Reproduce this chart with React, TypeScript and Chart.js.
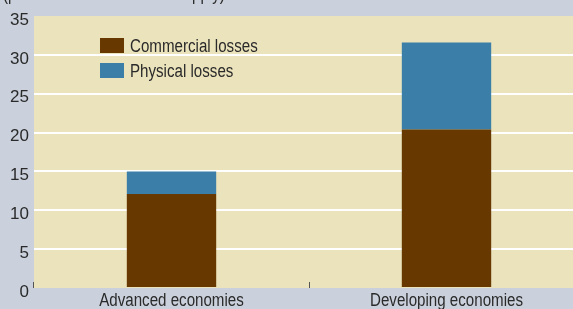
import React, { useEffect, useRef } from "react";
import { Chart, registerables } from "chart.js";

Chart.register(...registerables);

const categories = ["Advanced economies", "Developing economies"];
const commercialLosses = [12.1, 20.4];
const physicalLosses = [2.9, 11.2];
const yTicks = [0, 5, 10, 15, 20, 25, 30, 35];
const seriesLabels = ["Commercial losses", "Physical losses"];
const titleText = "(percent of total electrical supply)";

const BROWN = "#673900";
const BLUE = "#3B7EA8";
const PLOT_BG = "#EBE3BC";
const OUTER_BG = "#CBD1DC";
const TEXT = "#2a2a2a";
const FONT = "'Liberation Sans', Arial, sans-serif";
const SQUEEZE = 0.84;

function narrowText(ctx: CanvasRenderingContext2D, text: string, x: number, y: number, align: "left" | "center") {
  ctx.save();
  ctx.font = `18px ${FONT}`;
  ctx.textBaseline = "alphabetic";
  ctx.textAlign = align;
  ctx.translate(x, y);
  ctx.scale(SQUEEZE, 1);
  ctx.fillText(text, 0, 0);
  ctx.restore();
}

export default function App() {
  const ref = useRef<HTMLCanvasElement | null>(null);

  useEffect(() => {
    document.body.style.margin = "0";
    const canvas = ref.current!;
    const decor = {
      id: "decor",
      beforeDraw(chart: any) {
        const { ctx, chartArea } = chart;
        ctx.save();
        ctx.fillStyle = PLOT_BG;
        ctx.fillRect(chartArea.left, chartArea.top, chartArea.right - chartArea.left, chartArea.bottom - chartArea.top);
        ctx.restore();
      },
      afterDraw(chart: any) {
        const { ctx, chartArea } = chart;
        ctx.save();
        ctx.fillStyle = TEXT;
        // title (cut off at the top)
        narrowText(ctx, titleText, 3, 0, "left");
        // category labels
        const xs = chart.scales.x;
        categories.forEach((c, i) => {
          narrowText(ctx, c, xs.getPixelForValue(i), 306, "center");
        });
        // small ticks
        ctx.strokeStyle = "#555";
        ctx.lineWidth = 1;
        const mid = (xs.getPixelForValue(0) + xs.getPixelForValue(1)) / 2;
        ctx.beginPath();
        ctx.moveTo(Math.round(mid) + 0.5, chartArea.bottom - 6);
        ctx.lineTo(Math.round(mid) + 0.5, chartArea.bottom);
        ctx.moveTo(chartArea.left - 0.5, chartArea.bottom - 6);
        ctx.lineTo(chartArea.left - 0.5, chartArea.bottom);
        ctx.stroke();
        // legend
        const items = [
          { label: seriesLabels[0], color: BROWN, y: 38 },
          { label: seriesLabels[1], color: BLUE, y: 63 },
        ];
        for (const it of items) {
          ctx.fillStyle = it.color;
          ctx.fillRect(100, it.y, 24, 15);
          ctx.fillStyle = TEXT;
          narrowText(ctx, it.label, 130, it.y + 14, "left");
        }
        ctx.restore();
      },
    };

    const chart = new Chart(canvas, {
      type: "bar",
      data: {
        labels: categories,
        datasets: [
          {
            label: seriesLabels[0],
            data: commercialLosses,
            backgroundColor: BROWN,
            borderWidth: 0,
            barPercentage: 0.325,
            categoryPercentage: 1,
          },
          {
            label: seriesLabels[1],
            data: physicalLosses,
            backgroundColor: BLUE,
            borderWidth: 0,
            barPercentage: 0.325,
            categoryPercentage: 1,
          },
        ],
      },
      options: {
        responsive: false,
        animation: false,
        layout: { padding: { top: 16, right: 0, left: 0, bottom: 0 } },
        plugins: { legend: { display: false }, tooltip: { enabled: false }, title: { display: false } },
        scales: {
          x: {
            stacked: true,
            grid: { display: false, drawTicks: false },
            border: { display: false },
            ticks: { color: "rgba(0,0,0,0)", font: { family: FONT, size: 15 }, padding: 0, maxRotation: 0 },
            afterFit(scale: any) {
              scale.height = 21;
            },
          },
          y: {
            stacked: true,
            min: 0,
            max: 35,
            afterBuildTicks(scale: any) {
              scale.ticks = yTicks.map((v) => ({ value: v }));
            },
            grid: {
              drawTicks: false,
              lineWidth: 2,
              color: (c: any) => (c.tick && (c.tick.value === 0 || c.tick.value === 35) ? "rgba(0,0,0,0)" : "#ffffff"),
            },
            border: { display: false },
            ticks: {
              color: TEXT,
              font: { family: FONT, size: 17 },
              padding: 5,
              labelOffset: 4,
            },
            afterFit(scale: any) {
              scale.width = 34;
            },
          },
        },
      },
      plugins: [decor],
    } as any);
    return () => chart.destroy();
  }, []);

  return (
    <div style={{ position: "relative", width: 573, height: 309, overflow: "hidden", background: OUTER_BG }}>
      <canvas ref={ref} width={584} height={309} style={{ display: "block" }} />
    </div>
  );
}
